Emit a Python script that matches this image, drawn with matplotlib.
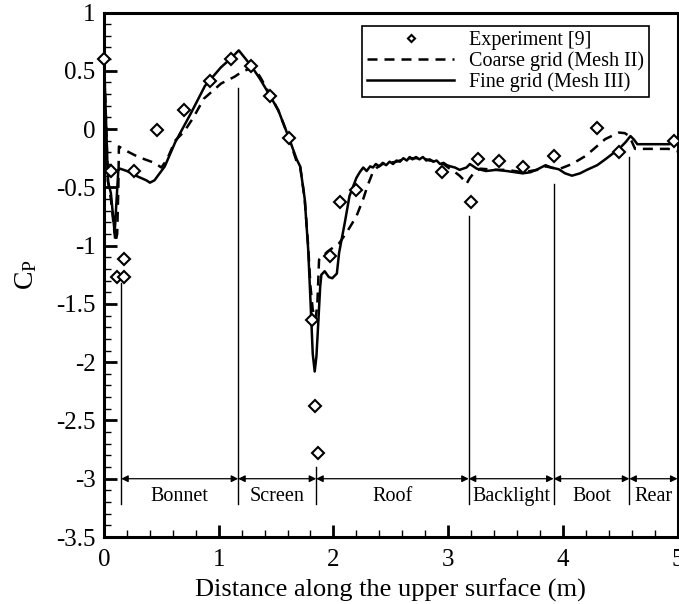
import matplotlib
matplotlib.use("Agg")
import matplotlib.pyplot as plt
from matplotlib.ticker import MultipleLocator, FuncFormatter

plt.rcParams['font.family'] = ['Liberation Serif', 'DejaVu Serif']
plt.rcParams['mathtext.fontset'] = 'custom'
plt.rcParams['mathtext.rm'] = 'Liberation Serif'
plt.rcParams['mathtext.it'] = 'Liberation Serif:italic'
plt.rcParams['axes.unicode_minus'] = False

# ---------------- data ----------------
exp_x = [0.0, 0.06, 0.117, 0.174, 0.174, 0.26, 0.46, 0.70, 0.92, 1.11, 1.285, 1.445, 1.61,
         1.81, 1.837, 1.866, 1.97, 2.06, 2.20, 2.95, 3.197, 3.26, 3.44, 3.65, 3.92, 4.30, 4.49, 4.97]
exp_y = [0.60, -0.36, -1.27, -1.27, -1.115, -0.36, -0.01, 0.16, 0.41, 0.60, 0.537, 0.287, -0.075,
         -1.64, -2.38, -2.78, -1.086, -0.63, -0.52, -0.37, -0.63, -0.26, -0.27, -0.325, -0.23, 0.006, -0.196, -0.10]

fine_x = [0.0, 0.02, 0.035, 0.06, 0.093, 0.11, 0.125, 0.14, 0.2, 0.3, 0.37, 0.40, 0.44, 0.53, 0.62,
          0.76, 0.88, 1.02, 1.10, 1.175, 1.22, 1.285, 1.36, 1.445, 1.52, 1.61, 1.68, 1.71, 1.75,
          1.78, 1.80, 1.82, 1.837, 1.852, 1.866, 1.885, 1.895, 1.924, 1.96, 1.99, 2.03, 2.05,
          2.10, 2.14, 2.20, 2.23, 2.26, 2.29, 2.32, 2.345, 2.37, 2.40, 2.43, 2.46, 2.49, 2.52,
          2.55, 2.58, 2.61, 2.64, 2.665, 2.69, 2.72, 2.75, 2.78, 2.81, 2.84, 2.87, 2.90, 2.93,
          2.96, 2.99, 3.02, 3.06, 3.10, 3.13, 3.16, 3.19, 3.25, 3.33, 3.42, 3.51, 3.58, 3.65,
          3.72, 3.78, 3.85, 3.90, 3.965, 4.02, 4.08, 4.15, 4.21, 4.30, 4.37, 4.45, 4.49, 4.55,
          4.59, 4.62, 4.65, 4.80, 4.92, 5.0]
fine_y = [0.60, 0.0, -0.45, -0.55, -0.89, -0.60, -0.35, -0.34, -0.36, -0.41, -0.44, -0.46, -0.44,
          -0.32, -0.115, 0.14, 0.37, 0.53, 0.60, 0.675, 0.62, 0.54, 0.43, 0.29, 0.16, -0.07, -0.26,
          -0.32, -0.60, -1.03, -1.47, -1.93, -2.08, -1.95, -1.70, -1.35, -1.25, -1.22, -1.27,
          -1.28, -1.24, -1.06, -0.80, -0.575, -0.42, -0.37, -0.33, -0.36, -0.32, -0.33, -0.30,
          -0.32, -0.29, -0.31, -0.28, -0.30, -0.27, -0.28, -0.25, -0.27, -0.24, -0.26, -0.24,
          -0.26, -0.24, -0.27, -0.26, -0.28, -0.27, -0.30, -0.29, -0.31, -0.32, -0.33, -0.35,
          -0.34, -0.33, -0.30, -0.34, -0.36, -0.35, -0.36, -0.37, -0.38, -0.37, -0.345, -0.31,
          -0.33, -0.345, -0.38, -0.40, -0.38, -0.35, -0.31, -0.26, -0.20, -0.17, -0.11, -0.06,
          -0.09, -0.13, -0.13, -0.13, -0.12]

coarse_x = [0.0, 0.02, 0.035, 0.06, 0.10, 0.115, 0.125, 0.13, 0.2, 0.3, 0.44, 0.50, 0.55, 0.62,
            0.70, 0.78, 0.87, 1.02, 1.14, 1.20, 1.30, 1.36, 1.445, 1.52, 1.61, 1.68, 1.71, 1.75,
            1.78, 1.80, 1.82, 1.845, 1.86, 1.875, 1.95, 2.05, 2.12, 2.20, 2.26, 2.30, 2.34, 2.38,
            2.43, 2.49, 2.55, 2.61, 2.665, 2.72, 2.78, 2.84, 2.90, 2.96, 3.00, 3.06, 3.10, 3.145,
            3.16, 3.19, 3.23, 3.28, 3.42, 3.51, 3.65, 3.78, 3.85, 3.965, 4.08, 4.20, 4.37, 4.49,
            4.54, 4.58, 4.63, 4.80, 4.92, 5.0]
coarse_y = [0.60, 0.0, -0.45, -0.60, -0.97, -0.90, -0.50, -0.15, -0.19, -0.24, -0.29, -0.33,
            -0.26, -0.10, -0.02, 0.10, 0.26, 0.39, 0.45, 0.49, 0.53, 0.45, 0.30, 0.16, -0.07,
            -0.28, -0.32, -0.60, -1.00, -1.35, -1.55, -1.63, -1.50, -1.12, -1.05, -0.98, -0.88,
            -0.75, -0.60, -0.48, -0.38, -0.33, -0.30, -0.29, -0.28, -0.26, -0.25, -0.25, -0.25,
            -0.27, -0.28, -0.30, -0.33, -0.37, -0.40, -0.445, -0.47, -0.42, -0.37, -0.34, -0.35,
            -0.35, -0.37, -0.35, -0.32, -0.345, -0.30, -0.23, -0.086, -0.03, -0.035, -0.06,
            -0.17, -0.17, -0.17, -0.19]

section_edges = [0.15, 1.17, 1.85, 3.18, 3.92, 4.58, 5.0]
edge_tops = [-1.32, 0.35, -2.90, -0.75, -0.47, -0.24, None]
section_names = ["Bonnet", "Screen", "Roof", "Backlight", "Boot", "Rear"]
arrow_level = -3.0
label_level = -3.15
edge_bottom = -3.22

# ---------------- figure ----------------
fig = plt.figure(figsize=(6.79, 6.04), dpi=100)
ax_top, ax_bot = 12.5, 537.0
ax = fig.add_axes([104 / 679, 1 - ax_bot / 604, (677.5 - 104) / 679, (ax_bot - ax_top) / 604])

ax.plot(coarse_x, coarse_y, color='black', lw=1.8, linestyle=(0, (4, 2.8)),
        label='Coarse grid (Mesh II)')
ax.plot(fine_x, fine_y, color='black', lw=1.8, label='Fine grid (Mesh III)')
ax.plot(exp_x, exp_y, linestyle='none', marker='D', ms=6, mfc='white', mec='black', mew=1.5,
        clip_on=False, zorder=5, label='Experiment [9]')

# section separators, arrows and names
for xe, top in zip(section_edges, edge_tops):
    if top is not None:
        ax.plot([xe, xe], [edge_bottom, top], color='black', lw=1.0)
for i, name in enumerate(section_names):
    x0, x1 = section_edges[i], section_edges[i + 1]
    ax.annotate('', xy=(x1, arrow_level), xytext=(x0, arrow_level),
                arrowprops=dict(arrowstyle='<|-|>', color='black', lw=0.9,
                                mutation_scale=10, shrinkA=0, shrinkB=0))
    ax.text((x0 + x1) / 2, label_level, name, ha='center', va='center', fontsize=14.5)

ax.set_xlim(0, 5)
ax.set_ylim(-3.5, 1)
ax.xaxis.set_major_locator(MultipleLocator(1))
ax.xaxis.set_minor_locator(MultipleLocator(0.2))
ax.yaxis.set_major_locator(MultipleLocator(0.5))
ax.yaxis.set_minor_locator(MultipleLocator(0.1))
ax.yaxis.set_major_formatter(FuncFormatter(lambda v, p: '%g' % v))
ax.xaxis.set_major_formatter(FuncFormatter(lambda v, p: '%g' % v))
ax.tick_params(which='both', direction='in', top=False, right=False, labelsize=18)
ax.tick_params(which='major', length=9, width=2.0)
ax.tick_params(axis='x', which='major', pad=9)
ax.tick_params(axis='y', which='major', pad=6)
ax.tick_params(which='minor', length=5, width=1.0)
for s in ax.spines.values():
    s.set_linewidth(2.2)

ax.set_xlabel('Distance along the upper surface (m)', fontsize=19, labelpad=5)
ax.set_ylabel('C$_\\mathrm{P}$', fontsize=20, labelpad=12)

handles, labels = ax.get_legend_handles_labels()
order = [2, 0, 1]
leg = ax.legend([handles[i] for i in order], [labels[i] for i in order],
                loc='upper right',
                bbox_to_anchor=((649 - 104) / 573.5, 1 - (26 - ax_top) / (ax_bot - ax_top)),
                borderaxespad=0, fontsize=14.5, frameon=True, fancybox=False,
                edgecolor='black', handlelength=4.3, handletextpad=0.75,
                labelspacing=0.05, borderpad=0.25, markerscale=0.6)
leg.get_frame().set_linewidth(1.2)
leg.get_frame().set_alpha(1)

fig.savefig('out.png', dpi=100)
